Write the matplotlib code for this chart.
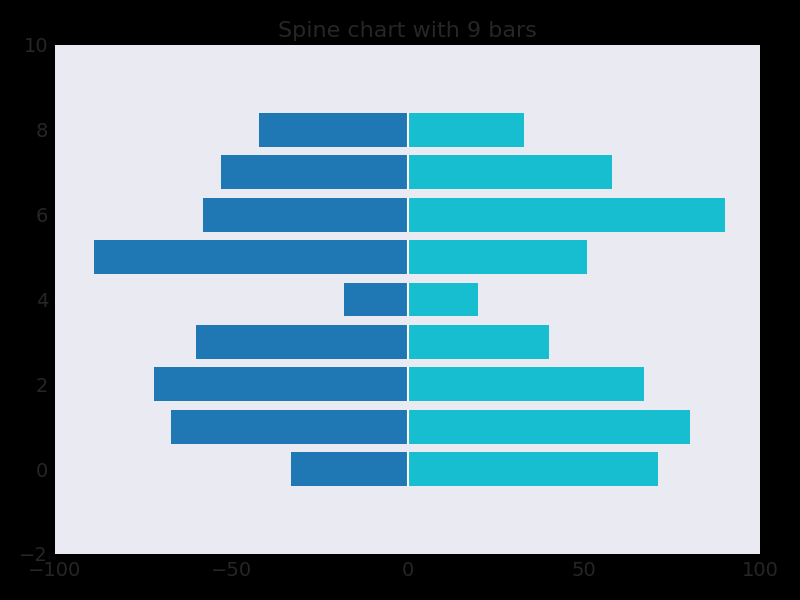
import matplotlib
matplotlib.use("Agg")
import matplotlib.pyplot as plt
import numpy as np

positions = [0, 1, 2, 3, 4, 5, 6, 7, 8]
left_values = [-33, -67, -72, -60, -18, -89, -58, -53, -42]
right_values = [71, 80, 67, 40, 20, 51, 90, 58, 33]
x_ticks = [-100, -50, 0, 50, 100]
y_ticks = [-2, 0, 2, 4, 6, 8, 10]
title = "Spine chart with 9 bars"

bar_h = 0.8
fig = plt.figure(figsize=(8, 6), dpi=100, facecolor="black")
ax = fig.add_axes([0.06875, 0.0767, 0.88125, 0.8483])
ax.set_facecolor("#EAEAF2")
ax.barh(positions, left_values, height=bar_h, color="#1f77b4", linewidth=0)
ax.barh(positions, right_values, height=bar_h, color="#17becf", linewidth=0)
pos = np.array(positions, dtype=float)
ax.vlines(np.zeros_like(pos), pos - bar_h / 2, pos + bar_h / 2, color="white", linewidth=1.5, zorder=3)
ax.set_xlim(-100, 100)
ax.set_ylim(-2, 10)
ax.set_xticks(x_ticks)
ax.set_yticks(y_ticks)
for s in ax.spines.values():
    s.set_visible(False)
ax.tick_params(colors="#262626", labelsize=14, length=0, pad=5)
ax.set_title(title, color="#262626", fontsize=16)
fig.savefig("out.png", facecolor="black")
